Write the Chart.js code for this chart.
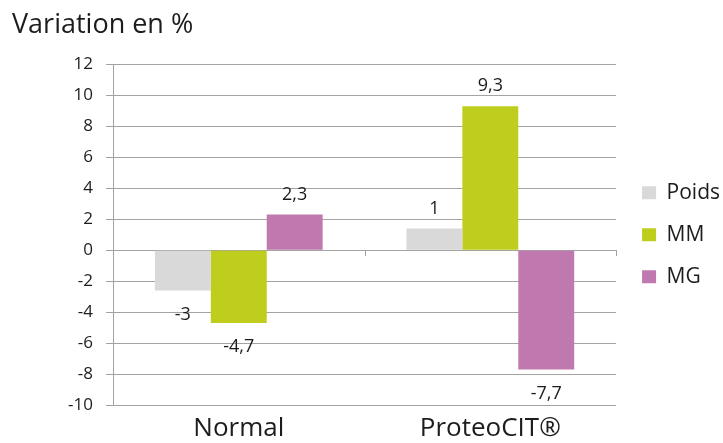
<!DOCTYPE html>
<html>
<head>
<meta charset="utf-8">
<script src="https://cdn.jsdelivr.net/npm/chart.js@4/dist/chart.umd.min.js"></script>
<style>
  html, body { margin: 0; padding: 0; background: #fff; }
  #wrap { width: 723px; height: 443px; position: relative; }
</style>
</head>
<body>
<div id="wrap"><canvas id="chart"></canvas></div>
<script>
'use strict';

/* Variation (%) by group: Poids / MM / MG */
var GROUPS      = ['Normal', 'ProteoCIT\u00AE'];
var SERIES      = ['Poids', 'MM', 'MG'];
var POIDS       = [-2.6, 1.4];
var MM          = [-4.7, 9.3];
var MG          = [2.3, -7.7];
var Y_MIN = -10, Y_MAX = 12, Y_STEP = 2;

var FONT   = '"Open Sans", Lato, sans-serif';
var TXT    = '#1c1c1c';
var GRID   = '#a3a3a3';
var COLORS = ['#d9d9d9', '#bfce1c', '#bf79ae'];
var DECIMALS = [0, 1, 1]; // Poids labels shown as whole numbers

function fmt(v, d) {
  return v.toFixed(d).replace('.', ',');
}

/* value labels at the outer end of each bar */
var barLabels = {
  id: 'barLabels',
  afterDatasetsDraw: function (chart) {
    var ctx = chart.ctx;
    ctx.save();
    ctx.font = '18px ' + FONT;
    ctx.fillStyle = TXT;
    ctx.textAlign = 'center';
    ctx.textBaseline = 'middle';
    chart.data.datasets.forEach(function (ds, i) {
      var meta = chart.getDatasetMeta(i);
      meta.data.forEach(function (bar, j) {
        var v = ds.data[j];
        var y = v >= 0 ? bar.y - 20 : bar.y + 24;
        ctx.fillText(fmt(v, ds.decimals), bar.x, y);
      });
    });
    ctx.restore();
  }
};

/* small category tick marks hanging under the zero line */
var zeroTicks = {
  id: 'zeroTicks',
  afterDraw: function (chart) {
    var xs = chart.scales.x, ys = chart.scales.y, ctx = chart.ctx;
    var y0 = ys.getPixelForValue(0);
    var pts = [chart.chartArea.left];
    for (var i = 0; i < GROUPS.length - 1; i++) {
      pts.push((xs.getPixelForValue(i) + xs.getPixelForValue(i + 1)) / 2);
    }
    pts.push(chart.chartArea.right);
    ctx.save();
    ctx.strokeStyle = GRID;
    ctx.lineWidth = 1;
    ctx.beginPath();
    pts.forEach(function (x) {
      x = Math.round(x) + 0.5;
      ctx.moveTo(x, Math.round(y0));
      ctx.lineTo(x, Math.round(y0) + 6);
    });
    ctx.stroke();
    ctx.restore();
  }
};

/* push the legend a little away from the plot, keeping its width */
var legendGap = {
  id: 'legendGap',
  afterLayout: function (chart) {
    if (chart.legend) {
      chart.legend.left += 5;
      chart.legend.right += 5;
    }
  }
};

var datasets = [POIDS, MM, MG].map(function (vals, i) {
  return {
    label: SERIES[i],
    data: vals,
    backgroundColor: COLORS[i],
    borderWidth: 0,
    decimals: DECIMALS[i],
    categoryPercentage: 0.667,
    barPercentage: 1.0
  };
});

new Chart(document.getElementById('chart'), {
  type: 'bar',
  data: { labels: GROUPS, datasets: datasets },
  plugins: [barLabels, zeroTicks, legendGap],
  options: {
    responsive: true,
    maintainAspectRatio: false,
    animation: false,
    layout: { padding: { left: 12, right: -2, top: 0, bottom: 0 } },
    plugins: {
      title: {
        display: true,
        text: 'Variation en %',
        align: 'start',
        color: TXT,
        font: { family: FONT, size: 27, weight: 'normal' },
        padding: { top: 9, bottom: 23 }
      },
      legend: {
        position: 'right',
        fullSize: false,
        labels: {
          color: TXT,
          font: { family: FONT, size: 21 },
          boxWidth: 14,
          boxHeight: 13,
          padding: 21
        }
      },
      tooltip: { enabled: false }
    },
    scales: {
      x: {
        grid: { display: false, drawTicks: false },
        border: { display: false },
        ticks: { color: TXT, font: { family: FONT, size: 26 }, padding: 8 },
        afterFit: function (s) { s.height = 38; }
      },
      y: {
        min: Y_MIN,
        max: Y_MAX,
        ticks: {
          stepSize: Y_STEP,
          color: TXT,
          font: { family: FONT, size: 17 },
          padding: 13
        },
        grid: { color: GRID, tickLength: 7, tickColor: GRID },
        border: { color: GRID },
        afterFit: function (s) { s.width = 101; }
      }
    }
  }
});
</script>
</body>
</html>
